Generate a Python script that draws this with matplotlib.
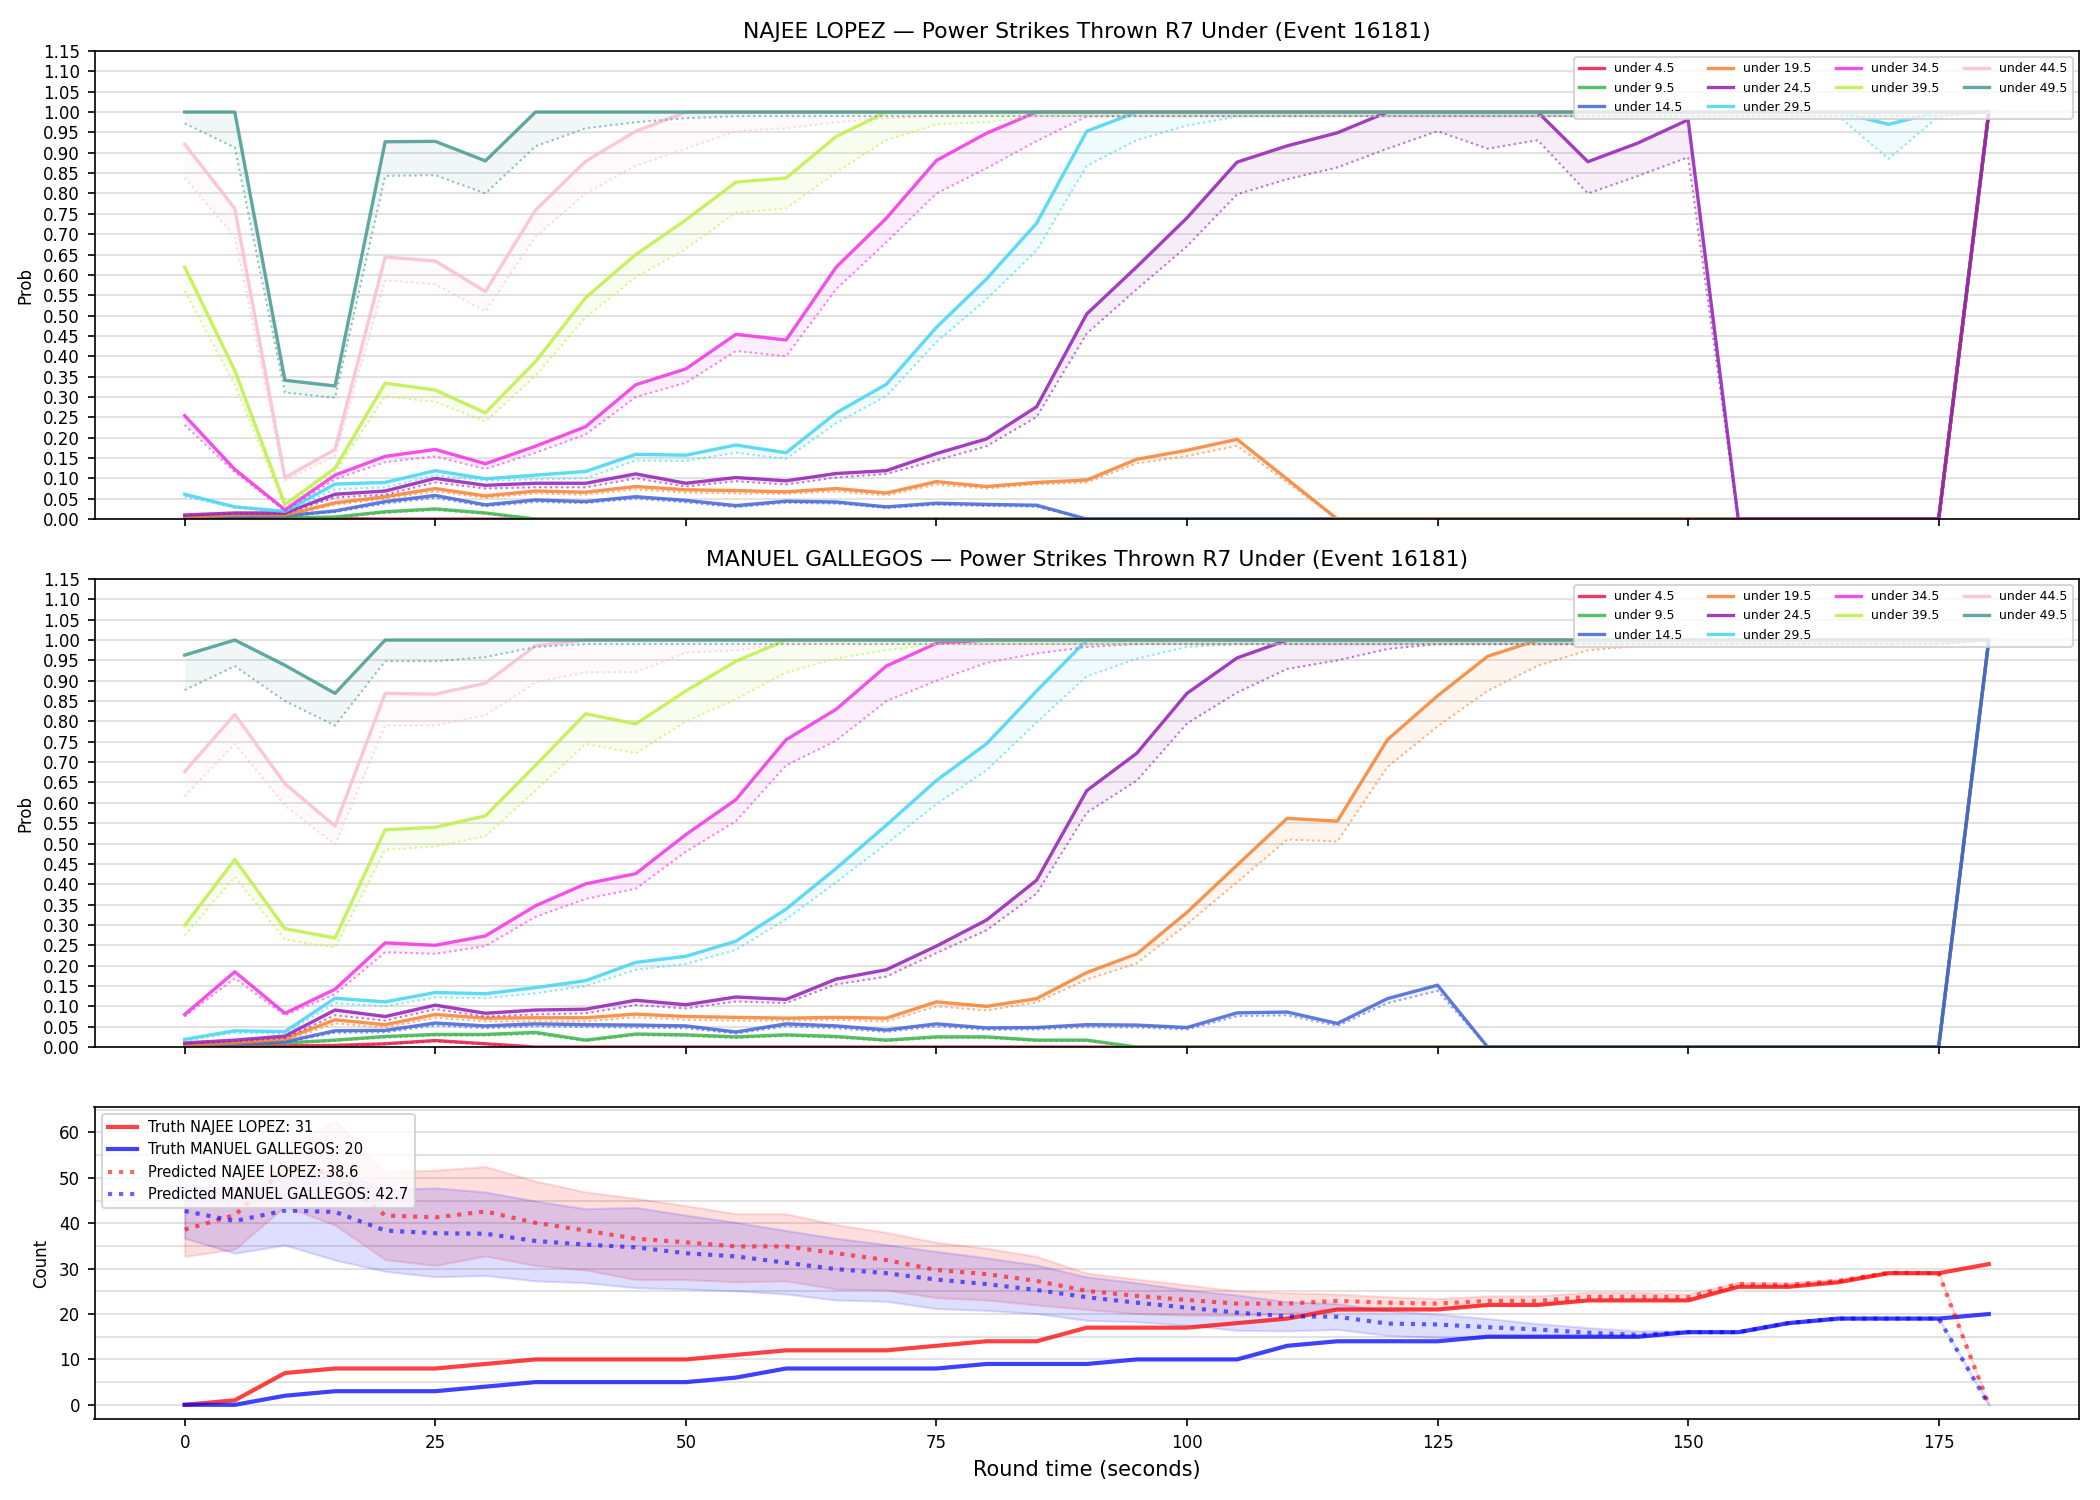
import matplotlib
matplotlib.use("Agg")
import matplotlib.pyplot as plt
from matplotlib.ticker import MultipleLocator

# round time, every 5 seconds
times = list(range(0, 185, 5))

lines = ["under 4.5", "under 9.5", "under 14.5", "under 19.5", "under 24.5",
         "under 29.5", "under 34.5", "under 39.5", "under 44.5", "under 49.5"]
line_colors = ["#e6194b", "#3cb44b", "#4363d8", "#f58231", "#911eb4",
               "#42d4f4", "#f032e6", "#bfef45", "#fabed4", "#469990"]

# NAJEE LOPEZ: probability (solid) and predicted (dotted)
lopez_u4 = [0.002, 0.002, 0.002, 0.001] + [0.0] * 32 + [1.0]
lopez_u9 = [0.002, 0.003, 0.003, 0.005, 0.018, 0.025, 0.015] + [0.0] * 29 + [1.0]
lopez_u14 = [0.003, 0.005, 0.008, 0.02, 0.043, 0.058, 0.035, 0.047, 0.043, 0.055, 0.046, 0.033,
             0.044, 0.042, 0.03, 0.039, 0.036, 0.034] + [0.0] * 18 + [1.0]
lopez_u19 = [0.005, 0.01, 0.01, 0.04, 0.055, 0.075, 0.057, 0.069, 0.066, 0.08, 0.072, 0.07,
             0.067, 0.075, 0.064, 0.092, 0.08, 0.09, 0.096, 0.147, 0.169, 0.196, 0.098] + [0.0] * 13 + [1.0]
lopez_u24 = [0.01, 0.015, 0.015, 0.061, 0.069, 0.1, 0.083, 0.088, 0.088, 0.111, 0.088, 0.102,
             0.094, 0.112, 0.119, 0.161, 0.197, 0.276, 0.504, 0.62, 0.74, 0.877, 0.917, 0.949,
             1.0, 1.0, 1.0, 1.0, 0.878, 0.924, 0.981, 0.0, 0.0, 0.0, 0.0, 0.0, 1.0]
lopez_u29 = [0.061, 0.03, 0.019, 0.086, 0.09, 0.119, 0.099, 0.108, 0.117, 0.159, 0.157, 0.182,
             0.163, 0.261, 0.331, 0.471, 0.59, 0.727, 0.953] + [1.0] * 15 + [0.97, 1.0, 1.0]
lopez_u34 = [0.254, 0.122, 0.023, 0.108, 0.154, 0.171, 0.136, 0.179, 0.227, 0.33, 0.369, 0.454,
             0.44, 0.619, 0.739, 0.881, 0.948] + [1.0] * 20
lopez_u39 = [0.619, 0.365, 0.036, 0.125, 0.334, 0.317, 0.261, 0.387, 0.544, 0.65, 0.735, 0.828,
             0.838, 0.94] + [1.0] * 23
lopez_u44 = [0.921, 0.763, 0.102, 0.171, 0.644, 0.634, 0.559, 0.759, 0.879, 0.953] + [1.0] * 27
lopez_u49 = [1.0, 1.0, 0.341, 0.327, 0.927, 0.928, 0.88] + [1.0] * 30

lopez_u4_pred = [0.001, 0.001, 0.001, 0.001] + [0.0] * 32 + [1.0]
lopez_u9_pred = [0.002, 0.003, 0.003, 0.004, 0.015, 0.022, 0.013] + [0.0] * 29 + [1.0]
lopez_u14_pred = [0.003, 0.004, 0.007, 0.017, 0.038, 0.052, 0.031, 0.042, 0.039, 0.05, 0.041, 0.029,
                  0.04, 0.038, 0.027, 0.035, 0.032, 0.03] + [0.0] * 18 + [1.0]
lopez_u19_pred = [0.004, 0.008, 0.008, 0.035, 0.05, 0.068, 0.052, 0.063, 0.06, 0.073, 0.065, 0.063,
                  0.062, 0.068, 0.058, 0.085, 0.075, 0.085, 0.09, 0.137, 0.155, 0.18, 0.09] + [0.0] * 13 + [1.0]
lopez_u24_pred = [0.008, 0.013, 0.013, 0.053, 0.06, 0.09, 0.075, 0.078, 0.078, 0.1, 0.08, 0.093,
                  0.085, 0.102, 0.111, 0.144, 0.179, 0.251, 0.456, 0.565, 0.67, 0.798, 0.835, 0.864,
                  0.91, 0.953, 0.91, 0.931, 0.8, 0.843, 0.889, 0.0, 0.0, 0.0, 0.0, 0.0, 1.0]
lopez_u29_pred = [0.055, 0.028, 0.017, 0.073, 0.078, 0.107, 0.094, 0.097, 0.1, 0.144, 0.143, 0.163,
                  0.148, 0.236, 0.302, 0.435, 0.54, 0.66, 0.868, 0.931, 0.967, 0.989] + [0.99] * 12 + [0.885, 0.99, 1.0]
lopez_u34_pred = [0.231, 0.115, 0.02, 0.098, 0.14, 0.154, 0.123, 0.163, 0.208, 0.3, 0.335, 0.413,
                  0.4, 0.565, 0.68, 0.8, 0.862, 0.929, 0.989] + [0.99] * 17 + [1.0]
lopez_u39_pred = [0.56, 0.33, 0.03, 0.115, 0.302, 0.288, 0.24, 0.352, 0.496, 0.594, 0.664, 0.753,
                  0.763, 0.852, 0.931, 0.97, 0.975, 0.99] + [0.99] * 18 + [1.0]
lopez_u44_pred = [0.838, 0.694, 0.095, 0.155, 0.587, 0.577, 0.51, 0.694, 0.8, 0.868, 0.91, 0.953,
                  0.96, 0.975, 0.985] + [0.99] * 21 + [1.0]
lopez_u49_pred = [0.972, 0.913, 0.311, 0.298, 0.843, 0.845, 0.8, 0.916, 0.96, 0.975, 0.985] + [0.99] * 25 + [1.0]

# MANUEL GALLEGOS
gallegos_u4 = [0.001, 0.003, 0.003, 0.004, 0.008, 0.016, 0.008] + [0.0] * 29 + [1.0]
gallegos_u9 = [0.003, 0.007, 0.01, 0.017, 0.026, 0.031, 0.031, 0.036, 0.017, 0.032, 0.03, 0.025,
               0.03, 0.026, 0.017, 0.025, 0.025, 0.017, 0.017] + [0.0] * 17 + [1.0]
gallegos_u14 = [0.003, 0.007, 0.013, 0.04, 0.041, 0.059, 0.052, 0.057, 0.055, 0.054, 0.052, 0.037,
                0.057, 0.052, 0.042, 0.057, 0.047, 0.048, 0.055, 0.054, 0.048, 0.084, 0.086, 0.058,
                0.119, 0.152] + [0.0] * 10 + [1.0]
gallegos_u19 = [0.005, 0.01, 0.02, 0.067, 0.055, 0.08, 0.071, 0.072, 0.072, 0.081, 0.075, 0.073,
                0.071, 0.073, 0.071, 0.111, 0.1, 0.119, 0.183, 0.229, 0.331, 0.447, 0.562, 0.555,
                0.755, 0.863, 0.96] + [1.0] * 10
gallegos_u24 = [0.01, 0.017, 0.027, 0.091, 0.075, 0.103, 0.083, 0.091, 0.093, 0.115, 0.104, 0.123,
                0.117, 0.167, 0.19, 0.248, 0.312, 0.41, 0.63, 0.722, 0.869, 0.956] + [1.0] * 15
gallegos_u29 = [0.019, 0.04, 0.038, 0.12, 0.111, 0.134, 0.131, 0.146, 0.163, 0.208, 0.223, 0.26,
                0.339, 0.439, 0.545, 0.655, 0.745, 0.875] + [1.0] * 19
gallegos_u34 = [0.08, 0.185, 0.083, 0.142, 0.256, 0.25, 0.273, 0.347, 0.401, 0.426, 0.522, 0.608,
                0.755, 0.83, 0.936, 0.992] + [1.0] * 21
gallegos_u39 = [0.299, 0.461, 0.291, 0.268, 0.534, 0.54, 0.568, 0.692, 0.819, 0.794, 0.875, 0.948] + [1.0] * 25
gallegos_u44 = [0.677, 0.817, 0.647, 0.543, 0.869, 0.867, 0.894, 0.986] + [1.0] * 29
gallegos_u49 = [0.963, 1.0, 0.938, 0.869] + [1.0] * 33

gallegos_u4_pred = [0.001, 0.002, 0.002, 0.003, 0.007, 0.014, 0.007] + [0.0] * 29 + [1.0]
gallegos_u9_pred = [0.002, 0.006, 0.009, 0.015, 0.023, 0.028, 0.028, 0.032, 0.015, 0.029, 0.027, 0.022,
                    0.027, 0.023, 0.015, 0.022, 0.022, 0.015, 0.015] + [0.0] * 17 + [1.0]
gallegos_u14_pred = [0.003, 0.006, 0.011, 0.035, 0.036, 0.053, 0.046, 0.051, 0.049, 0.048, 0.046, 0.033,
                     0.051, 0.046, 0.037, 0.051, 0.042, 0.043, 0.049, 0.048, 0.043, 0.076, 0.078, 0.052,
                     0.108, 0.138] + [0.0] * 10 + [1.0]
gallegos_u19_pred = [0.004, 0.008, 0.015, 0.058, 0.048, 0.072, 0.063, 0.063, 0.063, 0.073, 0.067, 0.065,
                     0.065, 0.067, 0.063, 0.1, 0.09, 0.11, 0.166, 0.206, 0.302, 0.405, 0.51, 0.505,
                     0.688, 0.788, 0.875, 0.937, 0.975, 0.985] + [0.99] * 6 + [1.0]
gallegos_u24_pred = [0.008, 0.014, 0.022, 0.078, 0.065, 0.093, 0.075, 0.08, 0.083, 0.103, 0.095, 0.112,
                     0.108, 0.154, 0.173, 0.231, 0.287, 0.377, 0.576, 0.655, 0.795, 0.871, 0.929, 0.95,
                     0.978, 0.99] + [0.99] * 10 + [1.0]
gallegos_u29_pred = [0.015, 0.035, 0.033, 0.108, 0.1, 0.122, 0.12, 0.132, 0.15, 0.19, 0.204, 0.239,
                     0.314, 0.405, 0.499, 0.597, 0.68, 0.798, 0.911, 0.954, 0.983] + [0.99] * 15 + [1.0]
gallegos_u34_pred = [0.075, 0.169, 0.078, 0.13, 0.233, 0.229, 0.248, 0.32, 0.364, 0.389, 0.48, 0.555,
                     0.692, 0.753, 0.85, 0.9, 0.944, 0.967, 0.983] + [0.99] * 17 + [1.0]
gallegos_u39_pred = [0.274, 0.418, 0.264, 0.244, 0.485, 0.493, 0.518, 0.63, 0.745, 0.722, 0.8, 0.855,
                     0.92, 0.955, 0.975] + [0.99] * 21 + [1.0]
gallegos_u44_pred = [0.616, 0.745, 0.593, 0.497, 0.79, 0.79, 0.815, 0.896, 0.921, 0.921, 0.969, 0.975] + [0.99] * 24 + [1.0]
gallegos_u49_pred = [0.877, 0.936, 0.85, 0.79, 0.948, 0.948, 0.958, 0.983] + [0.99] * 28 + [1.0]

# counts
truth_lopez = [0, 1, 7, 8, 8, 8, 9, 10, 10, 10, 10, 11, 12, 12, 12, 13, 14, 14, 17, 17, 17, 18, 19,
               21, 21, 21, 22, 22, 23, 23, 23, 26, 26, 27, 29, 29, 31]
truth_gallegos = [0, 0, 2, 3, 3, 3, 4, 5, 5, 5, 5, 6, 8, 8, 8, 8, 9, 9, 9, 10, 10, 10, 13, 14, 14,
                  14, 15, 15, 15, 15, 16, 16, 18, 19, 19, 19, 20]
pred_lopez = [38.6, 41.8, 52.0, 51.3, 41.7, 41.3, 42.6, 40.1, 38.4, 36.6, 35.8, 34.9, 34.9, 33.4,
              31.9, 29.7, 28.8, 27.3, 25.1, 24.0, 23.1, 22.3, 22.3, 22.9, 22.5, 22.3, 22.9, 22.9,
              23.8, 23.8, 23.7, 26.6, 26.4, 27.3, 29.1, 29.0, 0]
pred_gallegos = [42.7, 40.5, 42.8, 42.5, 38.4, 37.8, 37.7, 36.1, 35.3, 34.7, 33.4, 32.7, 31.3, 29.9,
                 29.0, 27.6, 26.6, 25.3, 23.7, 22.5, 21.4, 20.3, 19.5, 19.4, 17.9, 17.7, 17.1, 16.6,
                 15.9, 15.4, 16.0, 16.0, 18.0, 19.0, 19.0, 19.0, 0]
lopez_hi = [45, 48, 57, 62.5, 51.3, 51.7, 52.5, 49.3, 46.9, 45.5, 43.9, 42.1, 42.1, 39.7, 38.0, 35.8,
            34.5, 32.7, 29.0, 27.7, 26.4, 25.1, 24.7, 24.4, 23.8, 23.4, 24.0, 24.0, 24.8, 24.8, 24.4,
            27.0, 26.9, 27.7, 29.3, 29.3, 0]
lopez_lo = [32.7, 34.3, 43.7, 39.6, 32.0, 30.7, 32.8, 30.7, 29.7, 27.6, 27.6, 27.1, 27.3, 25.5, 25.3,
            23.6, 23.1, 22.0, 21.0, 20.1, 19.7, 19.7, 20.1, 21.2, 21.2, 21.2, 22, 22, 23, 23, 23, 26,
            26, 27, 29, 29, 0]
gallegos_hi = [48.5, 47.4, 50.3, 51.7, 47.4, 47.8, 46.9, 44.9, 43.2, 43.5, 41.8, 40.2, 38.4, 36.7,
               35.3, 33.8, 32.4, 30.8, 28.2, 26.9, 25.3, 24.2, 22.7, 22.3, 20.8, 20.0, 19.0, 17.9,
               17.0, 16.3, 16.3, 16, 18, 19, 19, 19, 0]
gallegos_lo = [36.7, 33.4, 35.2, 31.9, 29.4, 28.2, 28.5, 27.3, 26.9, 25.8, 25.5, 25.1, 24.4, 23.1,
               22.8, 21.2, 20.8, 20.1, 18.6, 18.3, 17.5, 16.4, 16.3, 16.6, 15.3, 14.8, 14.9, 14.9,
               14.9, 14.8, 16.0, 16, 18, 19, 19, 19, 0]

lopez_probs = [lopez_u4, lopez_u9, lopez_u14, lopez_u19, lopez_u24,
               lopez_u29, lopez_u34, lopez_u39, lopez_u44, lopez_u49]
lopez_preds = [lopez_u4_pred, lopez_u9_pred, lopez_u14_pred, lopez_u19_pred, lopez_u24_pred,
               lopez_u29_pred, lopez_u34_pred, lopez_u39_pred, lopez_u44_pred, lopez_u49_pred]
gallegos_probs = [gallegos_u4, gallegos_u9, gallegos_u14, gallegos_u19, gallegos_u24,
                  gallegos_u29, gallegos_u34, gallegos_u39, gallegos_u44, gallegos_u49]
gallegos_preds = [gallegos_u4_pred, gallegos_u9_pred, gallegos_u14_pred, gallegos_u19_pred, gallegos_u24_pred,
                  gallegos_u29_pred, gallegos_u34_pred, gallegos_u39_pred, gallegos_u44_pred, gallegos_u49_pred]


def prob_panel(ax, name, probs, preds):
    for label, color, p, q in zip(lines, line_colors, probs, preds):
        ax.fill_between(times, q, p, color=color, alpha=0.08, lw=0)
        ax.plot(times, q, ":", color=color, lw=1.0, alpha=0.6)
        ax.plot(times, p, "-", color=color, lw=1.6, alpha=0.85, label=label)
    ax.set_ylim(0, 1.15)
    ax.yaxis.set_major_locator(MultipleLocator(0.05))
    ax.yaxis.set_major_formatter("{x:.2f}")
    ax.grid(axis="y", color="#dddddd", lw=0.8)
    ax.set_axisbelow(True)
    ax.set_ylabel("Prob", fontsize=8)
    ax.tick_params(labelsize=8)
    ax.set_title(name + " \u2014 Power Strikes Thrown R7 Under (Event 16181)", fontsize=10.5)
    ax.legend(loc="upper right", ncol=4, fontsize=6, framealpha=0.8)


fig, axes = plt.subplots(3, 1, figsize=(14, 10), dpi=150, sharex=True,
                         gridspec_kw={"height_ratios": [3, 3, 2]})
plt.subplots_adjust(left=0.045, right=0.99, top=0.966, bottom=0.054, hspace=0.144)

prob_panel(axes[0], "NAJEE LOPEZ", lopez_probs, lopez_preds)
prob_panel(axes[1], "MANUEL GALLEGOS", gallegos_probs, gallegos_preds)

# counts panel
ax = axes[2]
ax.fill_between(times, lopez_lo, lopez_hi, color="#ff0000", alpha=0.13)
ax.fill_between(times, gallegos_lo, gallegos_hi, color="#0000ff", alpha=0.13)
ax.plot(times, truth_lopez, "-", color="#ff0000", alpha=0.75, lw=2,
        label="Truth NAJEE LOPEZ: %d" % truth_lopez[-1])
ax.plot(times, truth_gallegos, "-", color="#0000ff", alpha=0.75, lw=2,
        label="Truth MANUEL GALLEGOS: %d" % truth_gallegos[-1])
ax.plot(times, pred_lopez, ":", color="#ff0000", alpha=0.6, lw=2,
        label="Predicted NAJEE LOPEZ: %.1f" % pred_lopez[0])
ax.plot(times, pred_gallegos, ":", color="#0000ff", alpha=0.6, lw=2,
        label="Predicted MANUEL GALLEGOS: %.1f" % pred_gallegos[0])
ax.yaxis.set_major_locator(MultipleLocator(10))
ax.yaxis.set_minor_locator(MultipleLocator(5))
ax.grid(axis="y", which="both", color="#dddddd", lw=0.8)
ax.set_axisbelow(True)
ax.tick_params(which="minor", length=0)
ax.tick_params(labelsize=8)
ax.set_ylabel("Count", fontsize=8)
ax.set_xlabel("Round time (seconds)", fontsize=10)
ax.legend(loc="upper left", fontsize=7, framealpha=0.8)

plt.savefig("out.png", dpi=150)
